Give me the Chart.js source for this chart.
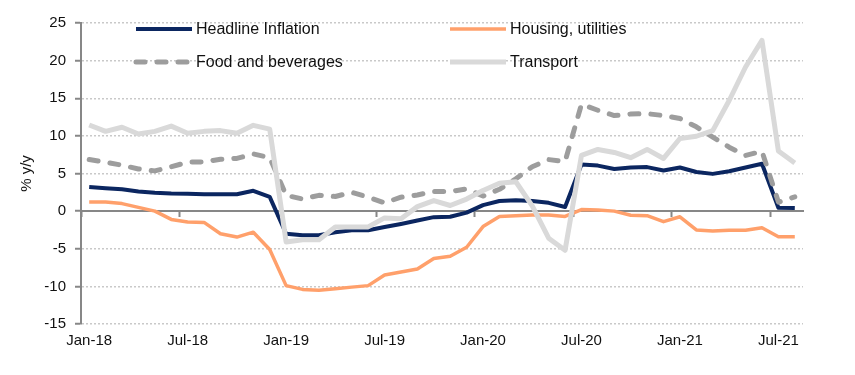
<!DOCTYPE html>
<html>
<head>
<meta charset="utf-8">
<script src="https://cdn.jsdelivr.net/npm/chart.js@4"></script>
<style>
  html, body { margin: 0; padding: 0; background: #fff; }
  #wrap { width: 855px; height: 375px; }
</style>
</head>
<body>
<div id="wrap"><canvas id="cpiChart" width="855" height="375"></canvas></div>
<script>
// months Jan-18 .. Aug-21
const months = [
  'Jan-18','Feb-18','Mar-18','Apr-18','May-18','Jun-18','Jul-18','Aug-18','Sep-18','Oct-18','Nov-18','Dec-18',
  'Jan-19','Feb-19','Mar-19','Apr-19','May-19','Jun-19','Jul-19','Aug-19','Sep-19','Oct-19','Nov-19','Dec-19',
  'Jan-20','Feb-20','Mar-20','Apr-20','May-20','Jun-20','Jul-20','Aug-20','Sep-20','Oct-20','Nov-20','Dec-20',
  'Jan-21','Feb-21','Mar-21','Apr-21','May-21','Jun-21','Jul-21','Aug-21'
];

const headline = [
  3.2, 3.05, 2.9, 2.6, 2.45, 2.35, 2.3, 2.25, 2.25, 2.25, 2.7, 1.9,
  -3.0, -3.2, -3.2, -2.8, -2.55, -2.55, -2.1, -1.7, -1.25, -0.8, -0.75, -0.2,
  0.8, 1.35, 1.45, 1.35, 1.1, 0.55, 6.2, 6.05, 5.6, 5.8, 5.85, 5.4,
  5.8, 5.2, 4.95, 5.3, 5.8, 6.3, 0.45, 0.4
];

const housing = [
  1.2, 1.2, 1.0, 0.5, 0.0, -1.1, -1.45, -1.5, -3.0, -3.45, -2.8, -5.1,
  -9.9, -10.4, -10.5, -10.3, -10.1, -9.9, -8.5, -8.1, -7.7, -6.3, -6.0, -4.8,
  -2.05, -0.7, -0.6, -0.5, -0.5, -0.7, 0.2, 0.15, 0.0, -0.55, -0.6, -1.4,
  -0.75, -2.5, -2.65, -2.55, -2.55, -2.2, -3.4, -3.4
];

const food = [
  6.85, 6.5, 6.1, 5.6, 5.35, 5.9, 6.5, 6.55, 6.9, 7.0, 7.6, 7.1,
  2.1, 1.6, 2.1, 1.95, 2.5, 1.85, 1.1, 1.85, 2.15, 2.6, 2.6, 2.95,
  2.0, 2.9, 4.3, 5.9, 6.85, 6.6, 14.2, 13.4, 12.7, 12.9, 12.95, 12.7,
  12.3, 11.2, 9.85, 8.5, 7.4, 7.95, 1.2, 1.9
];

const transport = [
  11.45, 10.6, 11.15, 10.25, 10.6, 11.3, 10.35, 10.6, 10.7, 10.35, 11.4, 10.9,
  -4.1, -3.8, -3.8, -2.1, -2.1, -2.1, -0.9, -1.0, 0.6, 1.4, 0.75, 1.6,
  2.75, 3.7, 3.9, 0.7, -3.6, -5.2, 7.4, 8.2, 7.8, 7.1, 8.2, 7.0,
  9.65, 9.95, 10.7, 14.7, 19.15, 22.7, 8.0, 6.4
];

const FONT = "Arial, 'Liberation Sans', sans-serif";
const AXIS_GREY = '#878787';

// 엑셀식 2열 범례 (차트 영역 안쪽)
const gridLegend = {
  id: 'gridLegend',
  afterDatasetsDraw(chart, args, opts) {
    const ctx = chart.ctx;
    chart.data.datasets.forEach((ds, i) => {
      const x = opts.columns[i % 2];
      const y = opts.rows[Math.floor(i / 2)];
      ctx.save();
      ctx.strokeStyle = ds.borderColor;
      ctx.lineWidth = ds.borderWidth;
      ctx.setLineDash(ds.borderDash || []);
      ctx.lineCap = ds.borderDash ? 'round' : 'butt';
      ctx.beginPath();
      ctx.moveTo(x, y);
      ctx.lineTo(x + opts.sampleWidth, y);
      ctx.stroke();
      ctx.setLineDash([]);
      ctx.fillStyle = '#111';
      ctx.font = opts.font;
      ctx.textBaseline = 'middle';
      ctx.fillText(ds.label, x + opts.sampleWidth + opts.gap, y + 1);
      ctx.restore();
    });
  }
};

const ctx = document.getElementById('cpiChart').getContext('2d');

new Chart(ctx, {
  type: 'line',
  data: {
    labels: months,
    datasets: [
      { label: 'Headline Inflation', data: headline, borderColor: '#0b2660', borderWidth: 4, order: 4 },
      { label: 'Housing, utilities', data: housing, borderColor: '#ffa06b', borderWidth: 3.5, order: 3 },
      { label: 'Food and beverages', data: food, borderColor: '#9d9d9d', borderWidth: 5, borderDash: [9, 12], borderCapStyle: 'round', order: 2 },
      { label: 'Transport', data: transport, borderColor: '#d9d9d9', borderWidth: 5, order: 1 }
    ]
  },
  options: {
    responsive: false,
    animation: false,
    devicePixelRatio: 1,
    layout: { padding: { top: 23, right: 52, bottom: 0, left: 0 } },
    elements: {
      point: { radius: 0 },
      line: { tension: 0, borderJoinStyle: 'round', fill: false }
    },
    plugins: {
      legend: { display: false },
      tooltip: { enabled: false },
      gridLegend: {
        columns: [136, 450],
        rows: [29, 62],
        sampleWidth: 56,
        gap: 4,
        font: '16px ' + FONT
      }
    },
    scales: {
      x: {
        type: 'category',
        position: 'bottom',
        offset: true,
        grid: { display: false, drawTicks: false, offset: true },
        border: { display: false },
        ticks: {
          autoSkip: false,
          maxRotation: 0,
          padding: 8,
          color: '#111',
          font: { family: FONT, size: 15 },
          callback: function (value, index) {
            return index % 6 === 0 ? this.getLabelForValue(value) : null;
          }
        },
        afterFit: (scale) => { scale.height = 51; }
      },
      // 0 위치의 x축선과 6개월 눈금
      xZero: {
        type: 'category',
        position: { y: 0 },
        offset: true,
        grid: {
          display: true,
          drawOnChartArea: false,
          drawTicks: true,
          offset: true,
          tickLength: 5,
          tickWidth: 2,
          color: (c) => (c.index % 6 === 0 ? AXIS_GREY : 'transparent')
        },
        border: { display: true, color: AXIS_GREY, width: 2 },
        ticks: { display: false, autoSkip: false }
      },
      y: {
        min: -15,
        max: 25,
        ticks: {
          stepSize: 5,
          padding: 9,
          color: '#111',
          font: { family: FONT, size: 15 }
        },
        grid: {
          drawTicks: true,
          tickLength: 6,
          tickWidth: 2,
          tickColor: AXIS_GREY,
          lineWidth: 1.5,
          color: (c) => (c.tick && c.tick.value === 0 ? 'transparent' : '#c9c9c9')
        },
        border: { display: true, color: AXIS_GREY, width: 2, dash: [2, 2] },
        title: {
          display: true,
          text: '% y/y',
          color: '#111',
          font: { family: FONT, size: 15 },
          padding: { top: 18, bottom: 0 }
        },
        afterFit: (scale) => { scale.width = 81; }
      }
    }
  },
  plugins: [gridLegend]
});
</script>
</body>
</html>
